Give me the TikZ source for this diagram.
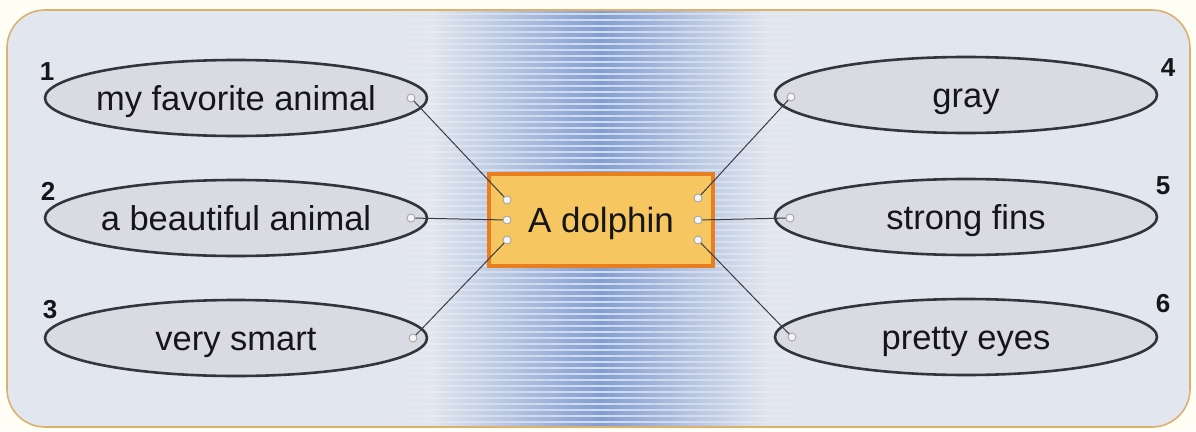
\documentclass[tikz,border=0pt]{standalone}
\usepackage{fontspec}
\setmainfont{Liberation Sans}
\usetikzlibrary{shapes.geometric}
\definecolor{bgc}{RGB}{226,230,238}
\definecolor{blu}{RGB}{130,158,210}
\definecolor{framec}{RGB}{222,176,112}
\definecolor{ellfill}{RGB}{218,218,226}
\definecolor{elldraw}{RGB}{52,52,60}
\definecolor{boxfill}{RGB}{246,198,96}
\definecolor{boxdraw}{RGB}{232,126,30}
\definecolor{txt}{RGB}{22,22,26}
\definecolor{linec}{RGB}{60,60,68}
\tikzset{
  oval/.style={ellipse, draw=elldraw, line width=2.6pt, fill=ellfill,
    minimum width=382pt, minimum height=76pt, inner xsep=-60pt, inner ysep=0pt,
    text height=31pt, text depth=7pt,
    font=\fontsize{34.5}{40}\selectfont, text=txt},
  numlab/.style={font=\fontsize{26}{30}\selectfont\bfseries, text=txt, inner sep=0pt},
  centerbox/.style={rectangle, draw=boxdraw, line width=3.5pt, fill=boxfill,
    minimum width=224pt, minimum height=92pt, inner sep=0pt,
    text height=31pt, text depth=7pt,
    font=\fontsize{35}{42}\selectfont, text=txt},
  pin/.style={circle, draw=gray!70, fill=white!92!gray, line width=0.9pt,
    minimum size=8pt, inner sep=0pt},
  conn/.style={draw=linec, line width=1pt}
}
\begin{document}
\begin{tikzpicture}[x=1pt,y=-1pt]
\useasboundingbox (0,0) rectangle (1196,431);
\fill[white!96!yellow] (0,0) rectangle (1196,431);
\begin{scope}
  \clip[rounded corners=38pt] (7,10) rectangle (1190,427);
  \fill[bgc] (0,0) rectangle (1196,431);
  \shade[left color=bgc, right color=blu] (430,0) rectangle (600,431);
  \shade[left color=blu, right color=bgc] (600,0) rectangle (770,431);
  \foreach \x in {370,390,...,810} {
    \pgfmathsetmacro\op{max(0,0.65*(1-abs(\x+10-600)/240))}
    \draw[white, opacity=\op, line width=2pt]
      \foreach \y in {14,20,...,426} {(\x,\y) -- ++(20,0)};
  }
\end{scope}
\draw[framec, line width=1.6pt, rounded corners=38pt] (7,10) rectangle (1190,427);

% ellipses
\node[oval] (o1) at (236,98) {my favorite animal};
\node[oval] (o2) at (236,218) {a beautiful animal};
\node[oval] (o3) at (236,338) {very smart};
\node[oval] (o4) at (966,95) {gray};
\node[oval] (o5) at (966,217) {strong fins};
\node[oval] (o6) at (966,337) {pretty eyes};

% numbers
\node[numlab] (n1) at (47,72) {1};
\node[numlab] (n2) at (48,191) {2};
\node[numlab] (n3) at (50,310) {3};
\node[numlab] (n4) at (1168,68) {4};
\node[numlab] (n5) at (1163,186) {5};
\node[numlab] (n6) at (1163,304) {6};

% center box
\node[centerbox] (c) at (601,220) {A dolphin};

% connectors
\coordinate (e1) at (411,98);
\coordinate (e2) at (411,218);
\coordinate (e3) at (413,338);
\coordinate (e4) at (791,97);
\coordinate (e5) at (790,218);
\coordinate (e6) at (792,337);
\coordinate (b1) at (507,200);
\coordinate (b2) at (507,220);
\coordinate (b3) at (507,240);
\coordinate (b4) at (698,198);
\coordinate (b5) at (698,220);
\coordinate (b6) at (698,240);
\foreach \i in {1,...,6} \draw[conn] (e\i) -- (b\i);
\foreach \i in {1,...,6} {
  \node[pin] (pe\i) at (e\i) {};
  \node[pin] (pb\i) at (b\i) {};
}
\end{tikzpicture}
\end{document}
